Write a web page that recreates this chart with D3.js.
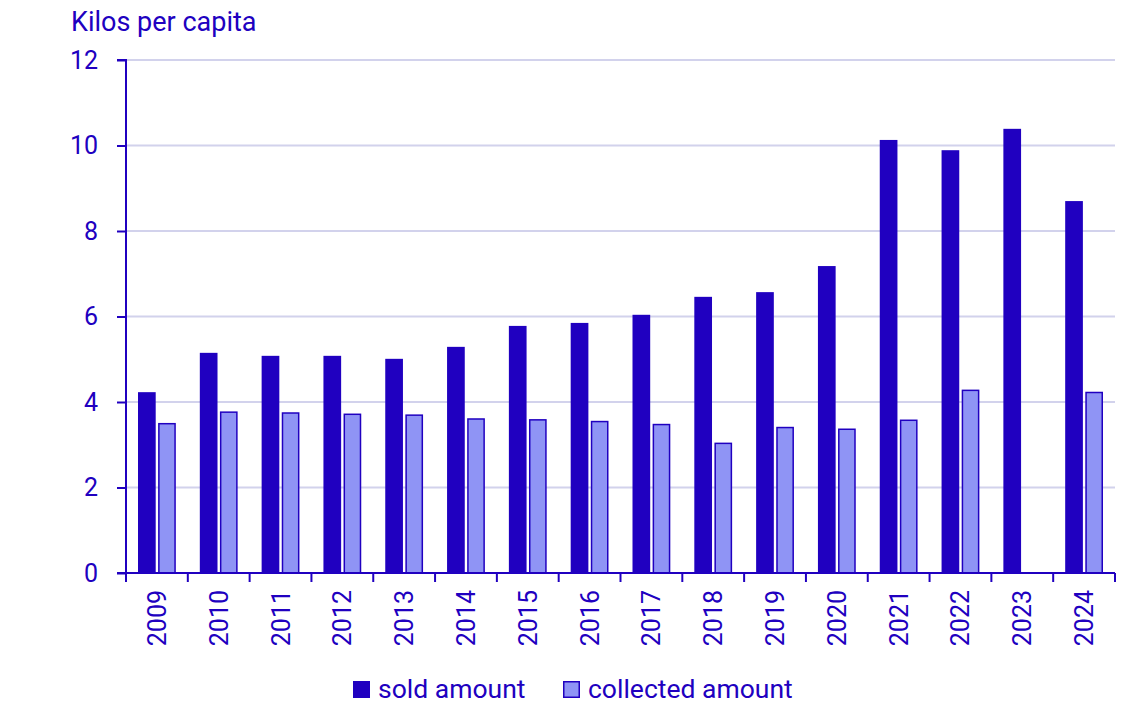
<!DOCTYPE html>
<html><head><meta charset="utf-8">
<script src="https://cdn.jsdelivr.net/npm/d3@7"></script>
<style>body{margin:0;background:#fff;font-family:Roboto,"Noto Sans",sans-serif}</style>
</head><body><svg id="c" width="1137" height="717"></svg>
<script>
const years = ["2009","2010","2011","2012","2013","2014","2015","2016","2017","2018","2019","2020","2021","2022","2023","2024"];
const sold = [4.23,5.15,5.08,5.08,5.01,5.29,5.78,5.85,6.04,6.46,6.57,7.18,10.13,9.89,10.39,8.70];
const collected = [3.51,3.78,3.76,3.73,3.71,3.62,3.60,3.56,3.49,3.05,3.42,3.38,3.59,4.29,null,4.24];
const yTicks = [0,2,4,6,8,10,12];
const seriesNames = ["sold amount","collected amount"];

const C = "#2000c0", LIGHT = "#8f94f5", GRID = "#d2d2ec";
const svg = d3.select("#c");
const m = {l:126, r:1115, t:60, b:573};
const x = d3.scaleBand().domain(years).range([m.l, m.r]).paddingInner(0).paddingOuter(0);
const y = d3.scaleLinear().domain([0,12]).range([m.b, m.t]);
const inner = d3.scaleBand().domain([0,1]).range([12, x.bandwidth()-12]).paddingInner(0.12);

svg.append("g").selectAll("line").data(yTicks.filter(d=>d>0)).join("line")
  .attr("x1", m.l).attr("x2", m.r).attr("y1", d=>y(d)).attr("y2", d=>y(d))
  .attr("stroke", GRID).attr("stroke-width", 2);

const g = svg.append("g");
g.selectAll("rect.s").data(years).join("rect").attr("class","s")
  .attr("x", (d,i)=>x(d)+inner(0)).attr("width", inner.bandwidth())
  .attr("y", (d,i)=>y(sold[i])).attr("height", (d,i)=>y(0)-y(sold[i]))
  .attr("fill", C);
g.selectAll("rect.c").data(years.filter((d,i)=>collected[i]!=null)).join("rect").attr("class","c")
  .attr("x", d=>x(d)+inner(1)+0.75).attr("width", inner.bandwidth()-1.5)
  .attr("y", d=>y(collected[years.indexOf(d)])+0.75)
  .attr("height", d=>y(0)-y(collected[years.indexOf(d)])-0.75)
  .attr("fill", LIGHT).attr("stroke", C).attr("stroke-width", 1.5);

// y axis
const ya = svg.append("g").attr("transform", `translate(${m.l},0)`)
  .call(d3.axisLeft(y).tickValues(yTicks).tickSize(9).tickPadding(19).tickFormat(d3.format("d")));
ya.select(".domain").attr("stroke", C).attr("stroke-width", 2).attr("d", `M-9,${m.t}H0V${m.b}`);
ya.selectAll(".tick line").attr("stroke", C).attr("stroke-width", 2);
ya.selectAll(".tick text").attr("fill", C).style("font-size","25px").style("font-family","Roboto");

// x axis
const xa = svg.append("g").attr("transform", `translate(0,${m.b})`)
  .call(d3.axisBottom(x).tickSize(0).tickPadding(0));
xa.select(".domain").attr("stroke", C).attr("stroke-width", 2).attr("d", `M${m.l-9},0H${m.r}`);
xa.selectAll(".tick text").remove();
const bounds = years.map(d=>x(d)).concat([m.r]);
xa.selectAll("line.b").data(bounds).join("line").attr("class","b")
  .attr("x1", d=>d).attr("x2", d=>d).attr("y1",0).attr("y2",9)
  .attr("stroke", C).attr("stroke-width", 2);
xa.selectAll("text.yl").data(years).join("text").attr("class","yl")
  .attr("transform", d=>`translate(${x(d)+x.bandwidth()/2+9},17) rotate(-90)`)
  .attr("text-anchor","end").attr("fill", C)
  .style("font-size","25px").style("font-family","Roboto").text(d=>d);

// title
svg.append("text").attr("x", 71).attr("y", 31).attr("fill", C)
  .style("font-size","27px").style("font-family","Roboto").text("Kilos per capita");

// legend
const lg = svg.append("g");
const lx = [353, 563];
lg.selectAll("rect").data(seriesNames).join("rect")
  .attr("x",(d,i)=>lx[i]+(i?0.75:0)).attr("y",(d,i)=>681+(i?0.75:0))
  .attr("width",(d,i)=>i?15.5:17).attr("height",(d,i)=>i?15.5:17)
  .attr("fill",(d,i)=>i?LIGHT:C).attr("stroke",(d,i)=>i?C:"none").attr("stroke-width",1.5);
lg.selectAll("text").data(seriesNames).join("text")
  .attr("x",(d,i)=>lx[i]+25).attr("y",698).attr("fill",C)
  .style("font-size","26.5px").style("font-family","Roboto").text(d=>d);
</script></body></html>
